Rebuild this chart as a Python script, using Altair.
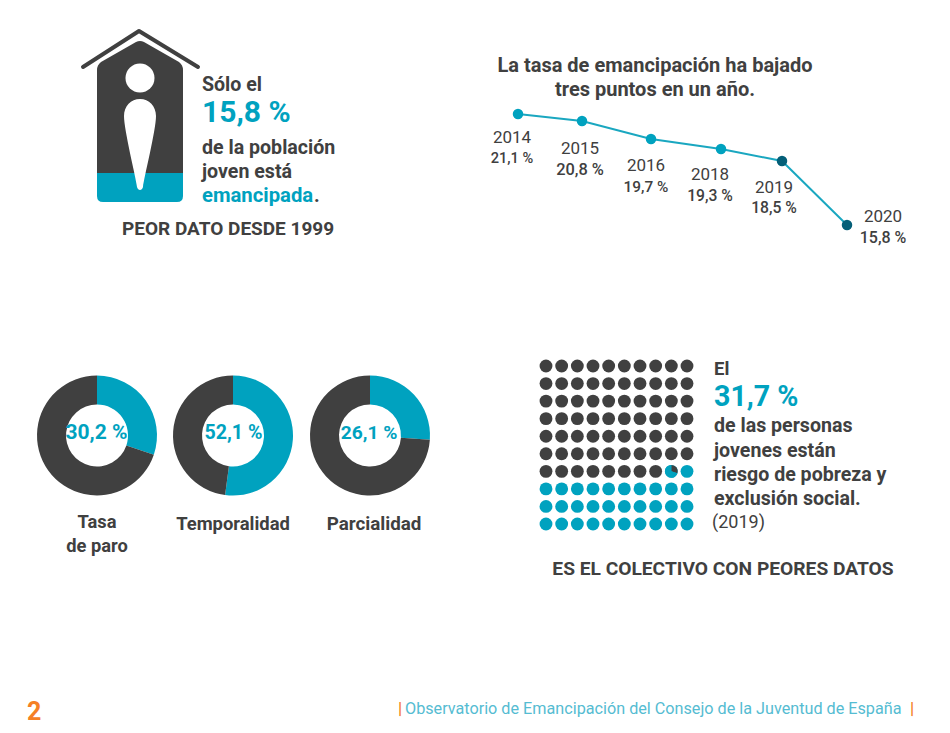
import altair as alt
import pandas as pd

DARK = "#404040"
TEAL = "#00a2bf"
DEEP = "#045f78"
ORANGE = "#f58025"
FONT = "Roboto"
OX, OY = 8, 8

# ---- data ----
years = [2014, 2015, 2016, 2018, 2019, 2020]
rates = [21.1, 20.8, 19.7, 19.3, 18.5, 15.8]
rate_labels = ["21,1 %", "20,8 %", "19,7 %", "19,3 %", "18,5 %", "15,8 %"]
donut_names = ["Tasa de paro", "Temporalidad", "Parcialidad"]
donut_values = [30.2, 52.1, 26.1]
donut_labels = ["30,2 %", "52,1 %", "26,1 %"]
poverty_share = 31.7
waffle_side = 10

# ---- layout (image pixels) ----
line_x = [518, 582, 651, 721, 782, 847]
line_y = [114, 121, 139, 149, 161, 225]
label_x = [512, 580, 646, 710, 774, 883]
label_year_y = [137, 148, 165, 174, 187, 216]
label_value_y = [158, 169, 186, 195, 207, 237]
label_value_size = [14.6, 16.4, 15.4, 15.7, 15.7, 16]
donut_cx = [97, 233, 370]
donut_label_x = [96.5, 233.5, 369]
donut_label_size = [21, 19.6, 19.2]
DONUT_CY, R_OUT, R_IN = 435.5, 60, 31
BODY = 19.6


def px(v):
    return v - OX


def py(v):
    return v - OY


def text(s, x, y, size, color=DARK, weight=700, align="left"):
    df = pd.DataFrame({"t": [s]})
    return (
        alt.Chart(df)
        .mark_text(font=FONT, fontSize=size, fontWeight=weight, color=color,
                   align=align, baseline="middle")
        .encode(x=alt.value(px(x)), y=alt.value(py(y + 1)), text="t:N")
    )


def icon(path, color, stroke=None, sw=0):
    df = pd.DataFrame({"i": [0]})
    kw = dict(shape=path, size=4, filled=stroke is None, opacity=1)
    if stroke is None:
        kw.update(fill=color, strokeWidth=0)
    else:
        kw.update(stroke=color, strokeWidth=sw, strokeCap="round", strokeJoin="round")
    return alt.Chart(df).mark_point(**kw).encode(x=alt.value(0), y=alt.value(0))


def P(cmds):
    """Translate an icon outline from image pixels to plot pixels."""
    out = []
    for c in cmds:
        if isinstance(c, str):
            out.append(c)
        else:
            out.append(f"{c[0]-OX},{c[1]-OY}")
    return " ".join(out)


layers = []

# ---- house icon ----
body = P(["M", (97, 176), "L", (97, 70), "Q", (97, 65), (101, 62), "L", (136, 42), "Q", (140, 40), (144, 42),
          "L", (179, 62), "Q", (183, 65), (183, 70), "L", (183, 176), "Z"])
base = P(["M", (97, 173), "L", (183, 173), "L", (183, 196), "Q", (183, 202), (177, 202),
          "L", (103, 202), "Q", (97, 202), (97, 196), "Z"])
roof = P(["M", (83, 67), "L", (139, 31), "L", (198, 67)])
drop = P(["M", (140, 99), "C", (149, 99), (156, 106), (156, 116), "C", (156, 130), (144, 178), (143, 187),
          "C", (142, 191), (138, 191), (137, 187), "C", (136, 178), (124, 130), (124, 116),
          "C", (124, 106), (131, 99), (140, 99), "Z"])
layers += [icon(body, DARK), icon(base, TEAL), icon(roof, DARK, DARK, 4), icon(drop, "white")]
head = pd.DataFrame({"i": [0]})
layers.append(alt.Chart(head).mark_point(filled=True, fill="white", opacity=1, size=841, strokeWidth=0)
              .encode(x=alt.value(px(140)), y=alt.value(py(78))))

layers += [
    text("Sólo el", 202, 84, BODY),
    text("15,8 %", 202, 112, 30, TEAL),
    text("de la población", 202, 147, BODY),
    text("joven está", 202, 171, BODY),
    text("emancipada", 202, 195, 20.3, TEAL),
    text(".", 314, 195, BODY),
    text("PEOR DATO DESDE 1999", 122, 228, 19),
]

# ---- line chart ----
line_df = pd.DataFrame({"year": years, "rate": rates,
                        "c": [TEAL, TEAL, TEAL, TEAL, DEEP, DEEP]})
x_line = alt.X("year:Q", axis=None, scale=alt.Scale(domain=years, range=[px(v) for v in line_x]))
y_line = alt.Y("rate:Q", axis=None, scale=alt.Scale(domain=rates, range=[py(v) for v in line_y]))
layers.append(alt.Chart(line_df).mark_line(color="#1aa7c0", strokeWidth=2).encode(x=x_line, y=y_line))
layers.append(alt.Chart(line_df).mark_point(filled=True, size=110, opacity=1)
              .encode(x=x_line, y=y_line, fill=alt.Fill("c:N", scale=None), stroke=alt.value(None)))

layers += [
    text("La tasa de emancipación ha bajado", 655, 65, 20, align="center"),
    text("tres puntos en un año.", 655, 89, 20, align="center"),
]
for i, y in enumerate(years):
    layers.append(text(str(y), label_x[i], label_year_y[i], 17, weight=400, align="center"))
    layers.append(text(rate_labels[i], label_x[i], label_value_y[i], label_value_size[i], weight=500, align="center"))

# ---- donuts ----
for i, v in enumerate(donut_values):
    df = pd.DataFrame({"part": [0, 1], "v": [v, 100 - v], "c": [TEAL, DARK]})
    layers.append(
        alt.Chart(df).mark_arc(outerRadius=R_OUT, innerRadius=R_IN).encode(
            theta=alt.Theta("v:Q", stack=True, scale=alt.Scale(domain=[0, 100])),
            order=alt.Order("part:Q"),
            fill=alt.Fill("c:N", scale=None),
            x=alt.value(px(donut_cx[i])), y=alt.value(py(DONUT_CY)),
        )
    )
    layers.append(text(donut_labels[i], donut_label_x[i], 432, donut_label_size[i], TEAL, align="center"))

layers += [
    text("Tasa", 97, 522, 18.3, align="center"),
    text("de paro", 97, 546, 18.3, align="center"),
    text("Temporalidad", 233, 523, 18.4, align="center"),
    text("Parcialidad", 374, 523, 18.8, align="center"),
]

# ---- waffle ----
whole = int(poverty_share)
frac = poverty_share - whole
cells = []
for k in range(waffle_side ** 2):
    from_end = waffle_side ** 2 - 1 - k
    row = k // waffle_side
    col = k % waffle_side
    is_teal = from_end <= whole
    cells.append({"row": row, "col": col, "c": TEAL if is_teal else DARK})
waffle = pd.DataFrame(cells)
x_w = alt.X("col:Q", axis=None, scale=alt.Scale(domain=[0, 9], range=[px(546), px(687)]))
y_w = alt.Y("row:Q", axis=None, scale=alt.Scale(domain=[0, 9], range=[py(366), py(524)]))
layers.append(alt.Chart(waffle).mark_point(filled=True, size=165, opacity=1)
              .encode(x=x_w, y=y_w, fill=alt.Fill("c:N", scale=None), stroke=alt.value(None)))
# partly filled cell: the remaining share of the dot stays dark
part_row = 6
part_col = 8
wedge = pd.DataFrame({"part": [0, 1], "v": [1 - frac, frac], "c": [DARK, TEAL]})
layers.append(
    alt.Chart(wedge).mark_arc(outerRadius=6.4).encode(
        theta=alt.Theta("v:Q", stack=True, scale=alt.Scale(domain=[0, 1], range=[0, 6.2832])),
        order=alt.Order("part:Q"),
        fill=alt.Fill("c:N", scale=None),
        x=alt.value(px(546 + 141 / 9 * part_col)), y=alt.value(py(366 + 158 / 9 * part_row)),
    )
)

layers += [
    text("El", 714, 368, 18.5),
    text("31,7 %", 714, 395.5, 28.6, TEAL),
    text("de las personas", 714, 425, BODY),
    text("jovenes están", 714, 450, BODY),
    text("riesgo de pobreza y", 714, 474, BODY),
    text("exclusión social.", 714, 498, BODY),
    text("(2019)", 712, 522, 18, weight=400),
    text("ES EL COLECTIVO CON PEORES DATOS", 723, 568, 19.2, align="center"),
]

# ---- footer ----
layers += [
    text("2", 27, 711, 25, ORANGE),
    text("|", 398, 708, 17, ORANGE, weight=500),
    text("Observatorio de Emancipación del Consejo de la Juventud de España", 405, 708, 16.2, "#55bcd2", weight=400),
    text("|", 910, 708, 17, ORANGE, weight=500),
]

chart = (
    alt.layer(*layers)
    .resolve_scale(x="independent", y="independent", theta="independent")
    .properties(width=934, height=717, padding=0, autosize=alt.AutoSizeParams(type="none"), background="white")
    .configure_view(stroke=None)
)
chart.save("out.html", embed_options={"renderer": "svg", "actions": False})
